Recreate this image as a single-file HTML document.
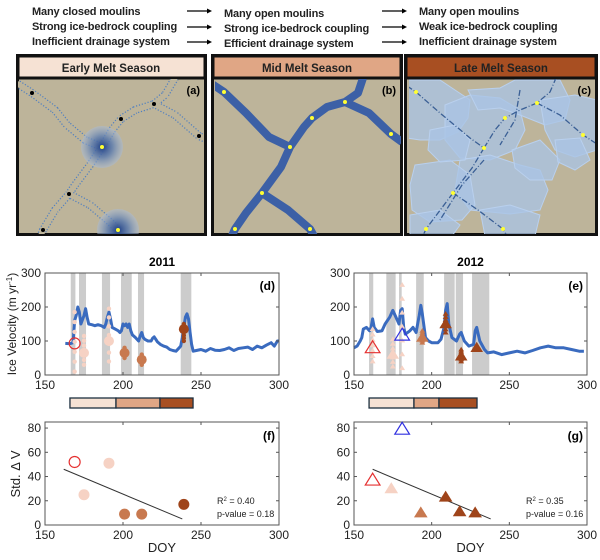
<!DOCTYPE html>
<html><head><meta charset="utf-8"><style>
html,body{margin:0;padding:0;background:#fff;}
svg{display:block;font-family:"Liberation Sans",sans-serif;}
</style></head><body>
<svg id="fig" width="600" height="560" viewBox="0 0 600 560" xmlns="http://www.w3.org/2000/svg">
<defs>
<radialGradient id="blob"><stop offset="0" stop-color="#1f3f86"/><stop offset="0.5" stop-color="#5a7bb0" stop-opacity="0.8"/><stop offset="1" stop-color="#a9bcd8" stop-opacity="0.5"/></radialGradient>
<clipPath id="ca"><rect x="18" y="79" width="186" height="155"/></clipPath>
<clipPath id="cb"><rect x="215" y="79" width="186" height="155"/></clipPath>
<clipPath id="cc"><rect x="409" y="79" width="186" height="155"/></clipPath>
</defs>
<g font-size="11" font-weight="bold" fill="#222" letter-spacing="-0.15">
<text x="32" y="15">Many closed moulins</text>
<text x="32" y="30">Strong ice-bedrock coupling</text>
<text x="32" y="45">Inefficient drainage system</text>
<text x="224" y="17">Many open moulins</text>
<text x="224" y="32">Strong ice-bedrock coupling</text>
<text x="224" y="47">Efficient drainage system</text>
<text x="419" y="15">Many open moulins</text>
<text x="419" y="30">Weak ice-bedrock coupling</text>
<text x="419" y="45">Inefficient drainage system</text>
</g>
<g stroke="#000" stroke-width="1.3">
<line x1="187" y1="11" x2="208" y2="11"/><line x1="187" y1="27" x2="208" y2="27"/><line x1="187" y1="42" x2="208" y2="42"/>
<line x1="382" y1="11" x2="403" y2="11"/><line x1="382" y1="27" x2="403" y2="27"/><line x1="382" y1="42" x2="403" y2="42"/>
</g>
<g fill="#000">
<path d="M207 8.5 L212 11 L207 13.5Z"/><path d="M207 24.5 L212 27 L207 29.5Z"/><path d="M207 39.5 L212 42 L207 44.5Z"/>
<path d="M402 8.5 L407 11 L402 13.5Z"/><path d="M402 24.5 L407 27 L402 29.5Z"/><path d="M402 39.5 L407 42 L402 44.5Z"/>
</g>
<g>
<rect x="17.5" y="55.5" width="188" height="179" fill="#bdb49a" stroke="#111" stroke-width="3"/>
<rect x="19" y="57" width="185" height="21" fill="#f6e2d4" stroke="#111" stroke-width="1"/>
<line x1="17" y1="78" x2="206" y2="78" stroke="#111" stroke-width="3"/>
<text x="111" y="72" text-anchor="middle" font-size="11.5" font-weight="bold" fill="#222">Early Melt Season</text>
<g clip-path="url(#ca)">
<g fill="none" stroke-linejoin="round" stroke-linecap="round">
<path d="M18 84 L32 93 L55 110 L67 125 L85 140 L102 147 L112 130 L121 119 L135 110 L154 104 L165 95 L175 78 M154 104 L175 115 L199 136 L208 140 M102 147 L90 165 L75 185 L69 194 L55 210 L43 230 L40 238 M69 194 L90 205 L110 222 L118 230" stroke="#4f7fc1" stroke-width="8" stroke-dasharray="1.2 1.8" stroke-linecap="butt"/>
<path d="M18 84 L32 93 L55 110 L67 125 L85 140 L102 147 L112 130 L121 119 L135 110 L154 104 L165 95 L175 78 M154 104 L175 115 L199 136 L208 140 M102 147 L90 165 L75 185 L69 194 L55 210 L43 230 L40 238 M69 194 L90 205 L110 222 L118 230" stroke="#bdb49a" stroke-width="5.6"/>
</g>
<circle cx="102" cy="147" r="21" fill="url(#blob)"/>
<circle cx="118" cy="230" r="21" fill="url(#blob)"/>
<g fill="#000"><circle cx="32" cy="93" r="2"/><circle cx="121" cy="119" r="2"/><circle cx="154" cy="104" r="2"/><circle cx="199" cy="136" r="2"/><circle cx="69" cy="194" r="2"/><circle cx="43" cy="230" r="2"/></g>
<g fill="#ffff33"><circle cx="102" cy="147" r="2"/><circle cx="118" cy="230" r="2"/></g>
</g>
<text x="200" y="94" text-anchor="end" font-size="11" font-weight="bold">(a)</text>
</g>
<g>
<rect x="212.5" y="55.5" width="189" height="179" fill="#bdb49a" stroke="#111" stroke-width="3"/>
<rect x="214" y="57" width="186" height="21" fill="#e0a685" stroke="#111" stroke-width="1"/>
<line x1="212" y1="78" x2="402" y2="78" stroke="#111" stroke-width="3"/>
<text x="307" y="72" text-anchor="middle" font-size="11.5" font-weight="bold" fill="#222">Mid Melt Season</text>
<g clip-path="url(#cb)">
<path d="M212 84 L224 92 L246 113 L269 137 L290 147 L304 127 L312 118 L327 107 L345 102 L358 93 L363 78 M345 102 L369 113 L391 134 L402 142 M290 147 L281 167 L262 193 L246 213 L235 229 L231 238 M262 193 L288 210 L310 229 L315 238" fill="none" stroke="#3c60a6" stroke-width="8" stroke-linejoin="round"/>
<g fill="#ffff33"><circle cx="224" cy="92" r="2"/><circle cx="290" cy="147" r="2"/><circle cx="312" cy="118" r="2"/><circle cx="345" cy="102" r="2"/><circle cx="391" cy="134" r="2"/><circle cx="262" cy="193" r="2"/><circle cx="235" cy="229" r="2"/><circle cx="310" cy="229" r="2"/></g>
</g>
<text x="396" y="94" text-anchor="end" font-size="11" font-weight="bold">(b)</text>
</g>
<g>
<rect x="405.5" y="55.5" width="191" height="179" fill="#bdb49a" stroke="#111" stroke-width="3"/>
<rect x="407" y="57" width="188" height="21" fill="#a84f22" stroke="#111" stroke-width="1"/>
<line x1="405" y1="78" x2="597" y2="78" stroke="#111" stroke-width="3"/>
<text x="501" y="72" text-anchor="middle" font-size="11.5" font-weight="bold" fill="#222">Late Melt Season</text>
<g clip-path="url(#cc)">
<g fill="#a9c4e6" fill-opacity="0.75" stroke="#b9d0ee" stroke-width="1">
<path d="M407 80 L440 80 L455 90 L470 100 L468 118 L458 132 L440 140 L420 140 L407 138Z"/>
<path d="M445 105 L470 95 L500 98 L520 110 L525 130 L515 150 L490 160 L460 158 L445 140Z"/>
<path d="M468 90 L500 88 L515 80 L560 80 L570 100 L565 120 L545 125 L520 115 L500 108 L478 110Z"/>
<path d="M540 100 L575 95 L597 100 L597 150 L575 157 L555 150 L545 130Z"/>
<path d="M460 160 L490 155 L520 165 L540 170 L548 190 L540 210 L510 214 L470 210 L455 190Z"/>
<path d="M415 165 L450 160 L470 175 L475 205 L462 220 L430 222 L412 210 L410 185Z"/>
<path d="M410 215 L440 210 L460 225 L452 236 L410 236Z"/>
<path d="M480 210 L510 205 L540 215 L535 236 L485 236Z"/>
<path d="M512 150 L540 140 L560 160 L552 180 L530 180 L515 168Z"/>
<path d="M430 130 L455 125 L470 140 L465 160 L440 162 L428 150Z"/>
<path d="M555 140 L580 138 L590 160 L575 170 L558 162Z"/>
</g>
<g fill="none" stroke="#3a5f95" stroke-width="1.3" stroke-dasharray="6 2 1 2">
<path d="M407 86 L416 92 L440 113 L470 138 L484 148 L495 130 L505 118 L520 110 L537 103 L550 92 L556 78"/>
<path d="M537 103 L560 115 L583 135 L597 144"/>
<path d="M484 148 L472 168 L453 193 L438 213 L426 229 L422 238"/>
<path d="M453 193 L478 210 L503 229 L508 238"/>
<path d="M484 160 L462 185 L440 220"/><path d="M520 90 L515 120 L500 145"/>
</g>
<g fill="#ffff33"><circle cx="416" cy="92" r="2"/><circle cx="537" cy="103" r="2"/><circle cx="505" cy="118" r="2"/><circle cx="484" cy="148" r="2"/><circle cx="583" cy="135" r="2"/><circle cx="453" cy="193" r="2"/><circle cx="426" cy="229" r="2"/><circle cx="503" cy="229" r="2"/></g>
</g>
<text x="591" y="94" text-anchor="end" font-size="11" font-weight="bold">(c)</text>
</g>
<g id="charts"></g>
</svg>
<script>
const doy2011 = [163,166,168,169,170,171,172,173,175,176,177,178,180,182,184,186,188,189,190,191,192,193,195,197,198,199,200,201,202,203,204,205,206,208,210,211,212,213,214,216,218,219,220,221,222,224,226,228,230,232,234,236,237,238,239,240,241,242,243,244,245,247,250,253,256,259,262,265,268,271,274,277,280,283,286,289,292,295,297,299,300];
const vel2011 = [93,92,95,160,175,200,185,150,175,195,170,150,148,145,148,145,140,150,170,185,165,140,135,130,125,130,150,145,150,140,150,130,118,110,100,115,125,110,105,100,100,108,112,105,98,90,85,82,75,72,70,80,85,110,140,170,180,165,125,90,70,72,75,70,78,73,72,75,80,72,78,80,82,75,85,80,88,95,85,100,100];
const doy2012 = [150,152,154,155,156,158,160,161,162,163,165,168,170,173,175,176,178,179,180,181,182,183,186,188,190,192,193,194,196,198,200,204,206,208,209,210,211,213,216,218,219,221,224,227,228,229,231,234,236,240,245,250,255,260,265,270,275,280,285,290,295,298];
const vel2012 = [80,85,100,110,135,140,130,140,165,140,128,130,150,170,190,180,160,150,190,195,140,120,130,140,125,175,205,180,110,100,95,95,105,140,190,210,150,110,100,120,125,100,85,90,130,140,100,75,65,68,60,65,70,65,72,80,85,80,80,75,70,70];
const shade2011Start = [166.5,171.8,186.5,198.7,209.6,237];
const shade2011End = [169.5,176.3,191.7,205.6,213.5,243.8];
const shade2012Start = [159.7,170.8,179,190,208,215.5,226];
const shade2012End = [162.4,176.8,180.7,194.9,214.8,220.2,237.1];
const ev2011Doy = [169,175,191,201,212,239];
const ev2011Vel = [93,65,100,65,45,135];
const ev2011Phase = [0,0,0,1,1,2];
const ev2011Min = [10,30,40,50,30,100];
const ev2011Max = [185,115,195,80,60,150];
const ev2012Doy = [162,175,181,194,209,219,229];
const ev2012Vel = [80,60,117,110,150,55,80];
const ev2012Phase = [0,0,0,1,2,2,2];
const ev2012Min = [40,25,20,95,125,40,75];
const ev2012Max = [135,105,265,130,180,75,85];
const std2011Doy = [169,175,191,201,212,239];
const std2011Val = [52,25,51,9,9,17];
const std2012Doy = [162,174,181,193,209,218,228];
const std2012Val = [37,30,79,10,23,11,10];
const trend2011 = [[162,46],[238,5]];
const trend2012 = [[162,46],[238,5]];
const xTicks = [150,200,250,300];
const velTicks = [0,100,200,300];
const stdTicks = [0,20,40,60,80];
const phaseColors = ['#f6d2c4','#c8794f','#9f441a'];
const phaseBar2011 = [166,195.5,223.7,244.9];
const phaseBar2012 = [159.7,188.6,204.7,229.2];
const barColors = ['#f6e2d4','#e0a685','#a84f22'];

const NS='http://www.w3.org/2000/svg';
const root=document.getElementById('charts');
function mk(tag,attrs,parent){const e=document.createElementNS(NS,tag);for(const k in attrs)e.setAttribute(k,attrs[k]);(parent||root).appendChild(e);return e;}
function txt(s,attrs,parent){const t=mk('text',attrs,parent);t.textContent=s;return t;}

function axes(x0,x1,y0,y1,dmin,dmax,vmin,vmax,yt){
  const X=d=>x0+(d-dmin)/(dmax-dmin)*(x1-x0);
  const Y=v=>y1-(v-vmin)/(vmax-vmin)*(y1-y0);
  return {X,Y,x0,x1,y0,y1,yt};
}
function drawFrame(ax,g){
  const f=mk('rect',{x:ax.x0,y:ax.y0,width:ax.x1-ax.x0,height:ax.y1-ax.y0,fill:'none',stroke:'#555','stroke-width':1},g);
  
  
  xTicks.forEach(t=>{
    const x=ax.X(t);
    mk('line',{x1:x,x2:x,y1:ax.y1,y2:ax.y1-3,stroke:'#555'},g);
    mk('line',{x1:x,x2:x,y1:ax.y0,y2:ax.y0+3,stroke:'#555'},g);
    const l=txt(String(t),{x:x,y:ax.y1+14,'text-anchor':'middle','font-size':12,fill:'#222'},g);
    
    
  });
  ax.yt.forEach(t=>{
    const y=ax.Y(t);
    mk('line',{x1:ax.x0,x2:ax.x0+3,y1:y,y2:y,stroke:'#555'},g);
    mk('line',{x1:ax.x1,x2:ax.x1-3,y1:y,y2:y,stroke:'#555'},g);
    const l=txt(String(t),{x:ax.x0-4,y:y+4,'text-anchor':'end','font-size':12,fill:'#222'},g);
    
    
  });
}
function tri(cx,cy,s){return `M${cx} ${cy-s} L${cx+s*1.05} ${cy+s*0.7} L${cx-s*1.05} ${cy+s*0.7}Z`;}

function velocityPanel(name,x0,x1,sS,sE,doys,vels,eD,eV,eP,eMin,eMax,shape,special,label,title){
  const g=mk('g',{});
  
  
  const ax=axes(x0,x1,273,375,150,300,0,300,velTicks);
  sS.forEach((s,i)=>{
    const r=mk('rect',{x:ax.X(s),y:ax.y0,width:ax.X(sE[i])-ax.X(s),height:ax.y1-ax.y0,fill:'#cccccc'},g);
    
    
  });
  const pts=doys.map((d,i)=>ax.X(d).toFixed(1)+','+ax.Y(vels[i]).toFixed(1)).join(' ');
  const pl=mk('polyline',{points:pts,fill:'none',stroke:'#3a6bbf','stroke-width':3,'stroke-linejoin':'round'},g);
  
  
  eD.forEach((d,i)=>{
    const c=phaseColors[eP[i]];
    const n=6;
    for(let k=0;k<=n;k++){
      const v=eMin[i]+(eMax[i]-eMin[i])*k/n;
      const p = shape==='c' ? mk('circle',{cx:ax.X(d),cy:ax.Y(v),r:2.2,fill:c},g) : mk('path',{d:tri(ax.X(d),ax.Y(v),2.8),fill:c},g);
      
      
    }
    if(special[i]) return;
    const m = shape==='c' ? mk('circle',{cx:ax.X(d),cy:ax.Y(eV[i]),r:5,fill:c},g) : mk('path',{d:tri(ax.X(d),ax.Y(eV[i]),6),fill:c},g);
    
    
  });
  eD.forEach((d,i)=>{
    if(!special[i]) return;
    const m = shape==='c' ? mk('circle',{cx:ax.X(d),cy:ax.Y(eV[i]),r:5.5,fill:'none',stroke:special[i],'stroke-width':1.2},g) : mk('path',{d:tri(ax.X(d),ax.Y(eV[i]),7),fill:'none',stroke:special[i],'stroke-width':1.2},g);
    
    
  });
  drawFrame(ax,g);
  const t=txt(title,{x:(x0+x1)/2,y:266,'text-anchor':'middle','font-size':12,'font-weight':'bold'},g);
  
  
  const l=txt(label,{x:x1-4,y:290,'text-anchor':'end','font-size':12,'font-weight':'bold'},g);
  
  
  return ax;
}
function phaseBar(name,ax,edges){
  const g=mk('g',{});
  
  
  for(let i=0;i<3;i++){
    const r=mk('rect',{x:ax.X(edges[i]),y:398,width:ax.X(edges[i+1])-ax.X(edges[i]),height:10,fill:barColors[i],stroke:'#1d2f3f','stroke-width':1.3},g);
    
    
  }
}
function stdPanel(name,x0,x1,doys,vals,phases,shape,special,trend,label,r2,pv){
  const g=mk('g',{});
  
  
  const ax=axes(x0,x1,422,525,150,300,0,85,stdTicks);
  drawFrame(ax,g);
  const tl=mk('line',{x1:ax.X(trend[0][0]),y1:ax.Y(trend[0][1]),x2:ax.X(trend[1][0]),y2:ax.Y(trend[1][1]),stroke:'#333','stroke-width':1},g);
  
  
  doys.forEach((d,i)=>{
    const sp=special[i];
    const c=phaseColors[phases[i]];
    let m;
    if(shape==='c') m=mk('circle',{cx:ax.X(d),cy:ax.Y(vals[i]),r:5.5,fill:sp?'none':c,stroke:sp||'none','stroke-width':1.2},g);
    else m=mk('path',{d:tri(ax.X(d),ax.Y(vals[i]),sp?7:6.5),fill:sp?'none':c,stroke:sp||'none','stroke-width':1.2},g);
    
    
  });
  const l=txt(label,{x:x1-4,y:440,'text-anchor':'end','font-size':12,'font-weight':'bold'},g);
  
  
  const a=txt('',{x:x0+172,y:504,'font-size':9,fill:'#222'},g);
  a.innerHTML='R<tspan dy="-3" font-size="6">2</tspan><tspan dy="3"> = '+r2+'</tspan>';
  
  
  const p=txt('p-value = '+pv,{x:x0+172,y:517,'font-size':9,fill:'#222'},g);
  
  
  const dx=txt('DOY',{x:(x0+x1)/2,y:552,'text-anchor':'middle','font-size':13,fill:'#222'},g);
  
  
}
const axD=velocityPanel('velocity-2011',45,279,shade2011Start,shade2011End,doy2011,vel2011,ev2011Doy,ev2011Vel,ev2011Phase,ev2011Min,ev2011Max,'c',['#e53030',0,0,0,0,0],'(d)','2011');
const axE=velocityPanel('velocity-2012',354,587,shade2012Start,shade2012End,doy2012,vel2012,ev2012Doy,ev2012Vel,ev2012Phase,ev2012Min,ev2012Max,'t',['#e53030',0,'#3030e0',0,0,0,0],'(e)','2012');
phaseBar('phase-bar-2011',axD,phaseBar2011);
phaseBar('phase-bar-2012',axE,phaseBar2012);
stdPanel('std-2011',45,279,std2011Doy,std2011Val,[0,0,0,1,1,2],'c',['#e53030',0,0,0,0,0],trend2011,'(f)','0.40','0.18');
stdPanel('std-2012',354,587,std2012Doy,std2012Val,[0,0,0,1,2,2,2],'t',['#e53030',0,'#3030e0',0,0,0,0],trend2012,'(g)','0.35','0.16');
const yt1=txt('',{transform:'translate(16,324) rotate(-90)','text-anchor':'middle','font-size':12,fill:'#222'});
yt1.innerHTML='Ice Velocity (m yr<tspan dy="-4" font-size="8">-1</tspan><tspan dy="4">)</tspan>';


const yt2=txt('Std. \u0394 V',{transform:'translate(20,474) rotate(-90)','text-anchor':'middle','font-size':13,fill:'#222'});


</script>
</body></html>
